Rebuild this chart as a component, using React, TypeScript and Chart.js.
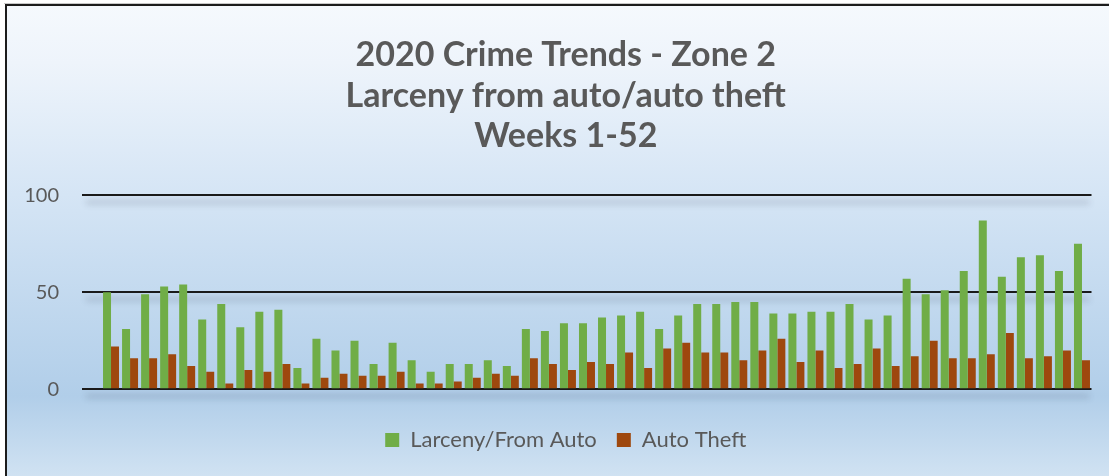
import React, { useEffect, useRef } from 'react';
import { Chart, registerables } from 'chart.js';

Chart.register(...registerables);

const weeks = [
  '1', '2', '3', '4', '5', '6', '7', '8', '9', '10', '11', '12', '13',
  '14', '15', '16', '17', '18', '19', '20', '21', '22', '23', '24', '25', '26',
  '27', '28', '29', '30', '31', '32', '33', '34', '35', '36', '37', '38', '39',
  '40', '41', '42', '43', '44', '45', '46', '47', '48', '49', '50', '51', '52',
];

const larcenyFromAuto = [
  50, 31, 49, 53, 54, 36, 44, 32, 40, 41, 11, 26, 20,
  25, 13, 24, 15, 9, 13, 13, 15, 12, 31, 30, 34, 34,
  37, 38, 40, 31, 38, 44, 44, 45, 45, 39, 39, 40, 40,
  44, 36, 38, 57, 49, 51, 61, 87, 58, 68, 69, 61, 75,
];

const autoTheft = [
  22, 16, 16, 18, 12, 9, 3, 10, 9, 13, 3, 6, 8,
  7, 7, 9, 3, 3, 4, 6, 8, 7, 16, 13, 10, 14,
  13, 19, 11, 21, 24, 19, 19, 15, 20, 26, 14, 20, 11,
  13, 21, 12, 17, 25, 16, 16, 18, 29, 16, 17, 20, 15,
];

const titleLines = ['2020 Crime Trends - Zone 2', 'Larceny from auto/auto theft', 'Weeks 1-52'];
const seriesNames = ['Larceny/From Auto', 'Auto Theft'];
const yTicks = [0, 50, 100];

const W = 1109;
const H = 476;
const TICK_LEN = 19.5;
const LEGEND_H = 86.7;
const LEGEND_SHIFT_Y = 19.7;
const CENTER_SHIFT_X = 20;

const bgPlugin = {
  id: 'bgPlugin',
  beforeDraw(chart: any) {
    const { ctx, width, height } = chart;
    ctx.save();
    ctx.fillStyle = '#ffffff';
    ctx.fillRect(0, 0, width, height);
    const g = ctx.createLinearGradient(0, 6, 0, height);
    g.addColorStop(0, '#f5f9fd');
    g.addColorStop(0.12, '#eef4fb');
    g.addColorStop(0.4, '#d5e5f5');
    g.addColorStop(0.83, '#b1cee9');
    g.addColorStop(1, '#d0e2f2');
    ctx.fillStyle = g;
    ctx.fillRect(6, 6, width - 6, height - 6);
    ctx.fillStyle = '#c8c8c8';
    ctx.fillRect(4, 3, width - 4, 1);
    ctx.fillStyle = '#1c1c1c';
    ctx.fillRect(5, 4, width - 5, 2);
    ctx.fillRect(5, 4, 2, height - 4);
    // soft shadows under the gridlines
    const ys = chart.scales.y;
    const area = chart.chartArea;
    ctx.strokeStyle = '#000';
    ctx.lineWidth = 3;
    ctx.shadowColor = 'rgba(60,70,90,0.28)';
    ctx.shadowBlur = 6;
    ctx.shadowOffsetX = 0;
    ctx.shadowOffsetY = 10000 + 7;
    ys.ticks.forEach((t: any) => {
      const py = ys.getPixelForValue(t.value);
      ctx.beginPath();
      ctx.moveTo(area.left - TICK_LEN + 4, py - 10000);
      ctx.lineTo(area.right - 2, py - 10000);
      ctx.stroke();
    });
    ctx.restore();
  },
};

const layoutFix = {
  id: 'layoutFix',
  beforeLayout(chart: any) {
    const lg = chart.legend;
    if (lg && !lg.__patched) {
      const orig = lg.fit.bind(lg);
      lg.fit = function () {
        orig();
        this.height = LEGEND_H;
      };
      lg.__patched = true;
    }
  },
  afterLayout(chart: any) {
    const lg = chart.legend;
    if (lg) {
      lg.top += LEGEND_SHIFT_Y;
      lg.bottom += LEGEND_SHIFT_Y;
      lg.left += CENTER_SHIFT_X;
      lg.right += CENTER_SHIFT_X;
    }
    const tb = chart.titleBlock;
    if (tb) {
      tb.left += CENTER_SHIFT_X;
      tb.right += CENTER_SHIFT_X;
    }
  },
};

export default function App() {
  const ref = useRef<HTMLCanvasElement>(null);
  useEffect(() => {
    document.body.style.margin = '0';
    const chart = new Chart(ref.current as HTMLCanvasElement, {
      type: 'bar',
      data: {
        labels: weeks,
        datasets: [
          {
            label: seriesNames[0],
            data: larcenyFromAuto,
            backgroundColor: '#70ad47',
            borderWidth: 0,
          },
          {
            label: seriesNames[1],
            data: autoTheft,
            backgroundColor: '#9e480e',
            borderWidth: 0,
          },
        ],
      },
      options: {
        responsive: false,
        animation: false,
        devicePixelRatio: 1,
        layout: { padding: { left: 0, right: 17.5, top: 0, bottom: 0 } },
        datasets: {
          bar: { categoryPercentage: 0.84, barPercentage: 1.0 },
        },
        scales: {
          x: { display: false },
          y: {
            min: 0,
            max: 100,
            afterFit(scale: any) {
              scale.width = 101.5;
            },
            afterBuildTicks(scale: any) {
              scale.ticks = yTicks.map((v) => ({ value: v }));
            },
            border: { display: false },
            grid: {
              color: '#1a1a1a',
              lineWidth: 2,
              tickLength: TICK_LEN,
              drawTicks: true,
            },
            ticks: {
              padding: 23,
              color: '#595959',
              font: { family: 'Lato', size: 20 },
            },
          },
        },
        plugins: {
          title: {
            display: true,
            text: titleLines,
            color: '#595959',
            font: { family: 'Lato', size: 34, weight: 'bold', lineHeight: 1.19 },
            padding: { top: 35, bottom: 38.8 },
          },
          legend: {
            display: true,
            position: 'bottom',
            labels: {
              boxWidth: 14,
              boxHeight: 14,
              padding: 20,
              color: '#595959',
              font: { family: 'Lato', size: 22 },
            },
          },
          tooltip: { enabled: false },
        },
      },
      plugins: [bgPlugin, layoutFix],
    } as any);
    return () => chart.destroy();
  }, []);
  return (
    <div style={{ position: 'fixed', left: 0, top: 0, width: W, height: H }}>
      <canvas ref={ref} width={W} height={H} style={{ display: 'block', width: W, height: H }} />
    </div>
  );
}
